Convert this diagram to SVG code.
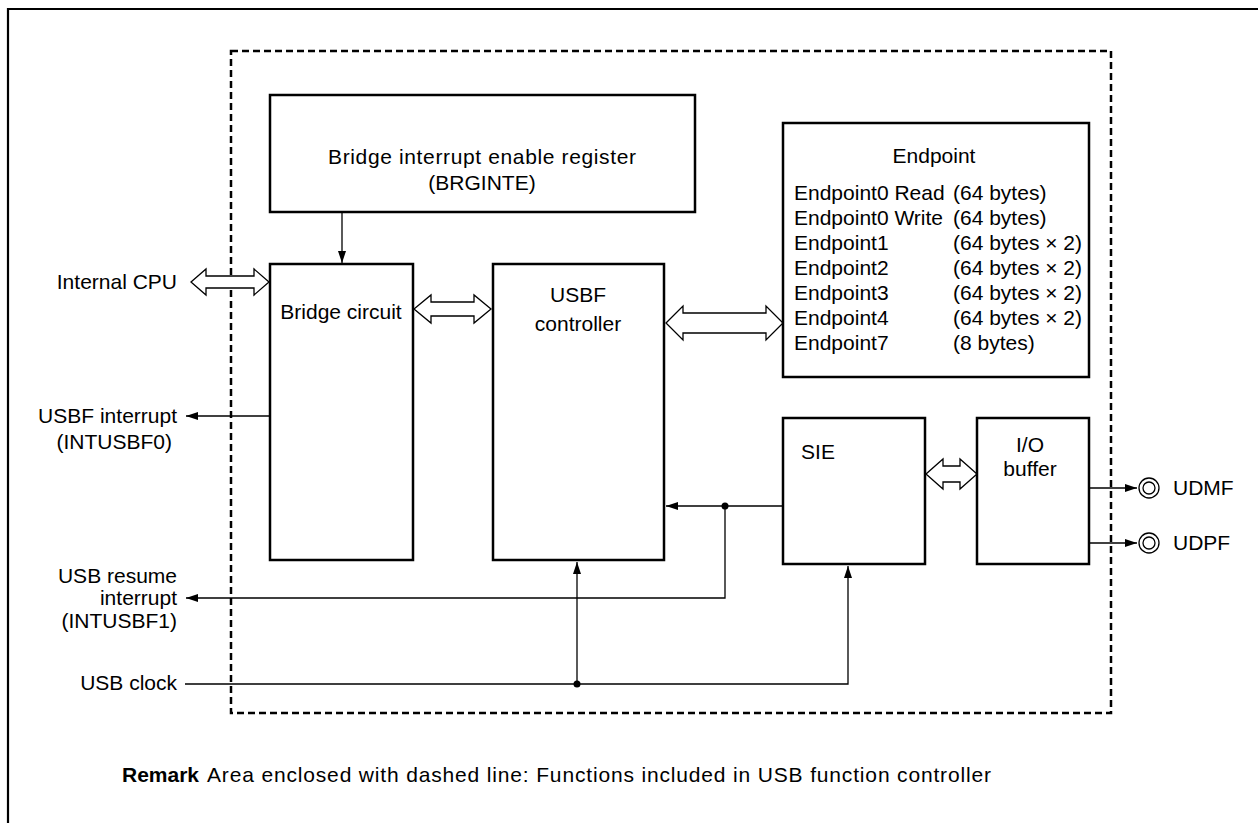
<svg xmlns="http://www.w3.org/2000/svg" width="1258" height="823" viewBox="0 0 1258 823">
<defs>
<style>
text{font-family:"Liberation Sans",Arial,Helvetica,sans-serif;font-size:21px;fill:#000}
.box{fill:#fff;stroke:#000;stroke-width:2.5}
.ln{fill:none;stroke:#000;stroke-width:1.3}
.dbl{fill:#fff;stroke:#000;stroke-width:1.3}
.m{text-anchor:middle}
.e{text-anchor:end}
</style>
<marker id="ah" viewBox="0 0 12 8" refX="12" refY="4" markerWidth="12" markerHeight="8" markerUnits="userSpaceOnUse" orient="auto">
<path d="M0,0 L12,4 L0,8 Z" fill="#000"/>
</marker>
</defs>
<rect width="1258" height="823" fill="#fff"/>
<path d="M8,823 V9 H1258" fill="none" stroke="#000" stroke-width="2.2"/>
<rect x="231" y="51" width="880" height="662" fill="none" stroke="#000" stroke-width="2.5" stroke-dasharray="7 4"/>

<g id="connectors">
<polygon class="dbl" points="191,282 206,269 206,276 254,276 254,269 269,282 254,295 254,288 206,288 206,295"/>
<polygon class="dbl" points="414,309 431,295 431,302 474,302 474,295 491,309 474,323 474,316 431,316 431,323"/>
<polygon class="dbl" points="666,323 683,306 683,313 766,313 766,306 783,323 766,340 766,333 683,333 683,340"/>
<polygon class="dbl" points="926,474 943,459 943,466 960,466 960,459 977,474 960,489 960,482 943,482 943,489"/>
<path class="ln" d="M342,212 V263" marker-end="url(#ah)"/>
<path class="ln" d="M270,416 H186" marker-end="url(#ah)"/>
<path class="ln" d="M783,506 H666" marker-end="url(#ah)"/>
<path class="ln" d="M725,506 V598 H186" marker-end="url(#ah)"/>
<path class="ln" d="M185,684 H848 V566" marker-end="url(#ah)"/>
<path class="ln" d="M577,684 V562" marker-end="url(#ah)"/>
<path class="ln" d="M1090,488 H1137" marker-end="url(#ah)"/>
<path class="ln" d="M1090,543 H1137" marker-end="url(#ah)"/>
<circle cx="725" cy="506" r="3.5" fill="#000"/>
<circle cx="577" cy="684" r="3.5" fill="#000"/>
</g>

<g id="brginte">
<rect class="box" x="270" y="95" width="425" height="117"/>
<text class="m" x="482" y="164" textLength="308" lengthAdjust="spacing">Bridge interrupt enable register</text>
<text class="m" x="482" y="190">(BRGINTE)</text>
</g>
<g id="bridge">
<rect class="box" x="270" y="264" width="143" height="296"/>
<text class="m" x="341" y="319">Bridge circuit</text>
</g>
<g id="usbf">
<rect class="box" x="493" y="264" width="171" height="296"/>
<text class="m" x="578" y="302">USBF</text>
<text class="m" x="578" y="331">controller</text>
</g>
<g id="endpoint">
<rect class="box" x="783" y="123" width="306" height="254"/>
<text class="m" x="934" y="163">Endpoint</text>
<text x="794" y="200">Endpoint0 Read</text><text x="953" y="200">(64 bytes)</text>
<text x="794" y="225">Endpoint0 Write</text><text x="953" y="225">(64 bytes)</text>
<text x="794" y="250">Endpoint1</text><text x="953" y="250">(64 bytes × 2)</text>
<text x="794" y="275">Endpoint2</text><text x="953" y="275">(64 bytes × 2)</text>
<text x="794" y="300">Endpoint3</text><text x="953" y="300">(64 bytes × 2)</text>
<text x="794" y="325">Endpoint4</text><text x="953" y="325">(64 bytes × 2)</text>
<text x="794" y="350">Endpoint7</text><text x="953" y="350">(8 bytes)</text>
</g>
<g id="sie">
<rect class="box" x="783" y="418" width="142" height="146"/>
<text class="m" x="818" y="459">SIE</text>
</g>
<g id="iobuf">
<rect class="box" x="977" y="418" width="112" height="146"/>
<text class="m" x="1030" y="452">I/O</text>
<text class="m" x="1030" y="476">buffer</text>
</g>
<g id="cpu"><text class="e" x="177" y="289">Internal CPU</text></g>
<g id="int0">
<text class="e" x="177" y="423">USBF interrupt</text>
<text class="e" x="172" y="449">(INTUSBF0)</text>
</g>
<g id="int1">
<text class="e" x="177" y="583">USB resume</text>
<text class="e" x="177" y="605">interrupt</text>
<text class="e" x="177" y="628">(INTUSBF1)</text>
</g>
<g id="clock"><text class="e" x="177" y="690">USB clock</text></g>
<g id="udmf">
<circle cx="1149" cy="488" r="10" fill="#fff" stroke="#000" stroke-width="1.3"/>
<circle cx="1149" cy="488" r="6" fill="#fff" stroke="#000" stroke-width="1.3"/>
<text x="1173" y="495">UDMF</text>
</g>
<g id="udpf">
<circle cx="1149" cy="543" r="10" fill="#fff" stroke="#000" stroke-width="1.3"/>
<circle cx="1149" cy="543" r="6" fill="#fff" stroke="#000" stroke-width="1.3"/>
<text x="1173" y="550">UDPF</text>
</g>
<g id="remark">
<text x="122" y="782" font-weight="bold">Remark</text>
<text x="207" y="782" textLength="784" lengthAdjust="spacing">Area enclosed with dashed line: Functions included in USB function controller</text>
</g>
</svg>
